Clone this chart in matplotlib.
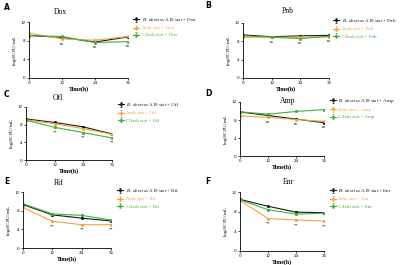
import matplotlib
matplotlib.use("Agg")
import matplotlib.pyplot as plt

plt.rcParams["mathtext.fontset"] = "custom"
plt.rcParams["mathtext.rm"] = "Liberation Serif"
plt.rcParams["mathtext.it"] = "Liberation Serif:italic"
plt.rcParams["mathtext.bf"] = "Liberation Serif:bold"

times = [0, 12, 24, 36]
series_names = ["B. abortus A19 stat", "Δrsh stat", "CΔrsh stat"]
colors = ["#1a1a1a", "#f5a245", "#3cb43c"]

drugs = ["Dox", "Pnb", "Ofl", "Amp", "Rif", "Enr"]
letters = ["A", "B", "C", "D", "E", "F"]

wt = {
    "Dox": [9.1, 8.7, 7.7, 8.8],
    "Pnb": [9.4, 9.0, 9.2, 9.3],
    "Ofl": [9.3, 8.5, 7.5, 5.9],
    "Amp": [9.8, 9.0, 8.2, 7.4],
    "Rif": [9.3, 7.1, 6.4, 5.8],
    "Enr": [10.5, 9.1, 7.9, 7.8],
}
rsh = {
    "Dox": [9.6, 8.4, 8.1, 8.9],
    "Pnb": [8.9, 8.9, 8.9, 9.0],
    "Ofl": [9.1, 8.2, 7.1, 5.8],
    "Amp": [8.9, 8.6, 8.1, 7.7],
    "Rif": [8.7, 5.7, 5.0, 5.0],
    "Enr": [10.3, 6.6, 6.3, 6.1],
}
crsh = {
    "Dox": [9.1, 8.9, 7.6, 7.8],
    "Pnb": [9.2, 8.9, 8.6, 9.1],
    "Ofl": [9.0, 7.4, 6.2, 5.0],
    "Amp": [9.8, 9.3, 9.9, 10.3],
    "Rif": [9.5, 7.3, 7.0, 6.0],
    "Enr": [10.4, 8.4, 7.5, 7.7],
}
err = [0.1, 0.15, 0.2, 0.15]
signif = {"Dox": "ns", "Pnb": "ns", "Ofl": "**", "Amp": "ns", "Rif": "**", "Enr": "**"}

# pixel layout: (left, right, top, bottom)
boxes = [(29, 128, 22, 78), (243, 329, 23, 78),
         (26, 112, 107, 160), (240, 324, 102, 156),
         (23, 111, 192, 248), (240, 324, 192, 251)]
title_pos = [(60, 12), (288, 11), (58, 98), (288, 101), (59, 183), (288, 182)]
letter_pos = [(4, 7), (205, 6), (4, 95), (205, 94), (4, 182), (205, 182)]
legend_pos = [(133, 16), (333, 17), (118, 101), (330, 97), (117, 187), (330, 187)]

W, H = 400, 265
fig = plt.figure(figsize=(4, 2.65), dpi=100)
serif = "Liberation Serif"

for i, d in enumerate(drugs):
    l, r, t, b = boxes[i]
    ax = fig.add_axes([l / W, 1 - b / H, (r - l) / W, (b - t) / H])
    data = [wt[d], rsh[d], crsh[d]]
    labels = [f"$\\it{{B.\\ abortus}}$ A19 stat + {d}", f"Δrsh stat + {d}", f"CΔrsh stat + {d}"]
    for vals, c, lab in zip(data, colors, labels):
        ax.errorbar(times, vals, yerr=err, color=c, lw=0.8, marker="o", ms=1.2,
                    elinewidth=0.5, capsize=0.8, capthick=0.5, label=lab)
    ax.set_xlim(0, 36)
    ax.set_ylim(0, 12)
    ax.set_xticks(times)
    ax.set_yticks([0, 4, 8, 12])
    for s in ["top", "right"]:
        ax.spines[s].set_visible(False)
    for s in ["left", "bottom"]:
        ax.spines[s].set_linewidth(0.6)
    ax.tick_params(labelsize=3.6, width=0.5, length=1.5, pad=0.8)
    for lab in ax.get_xticklabels() + ax.get_yticklabels():
        lab.set_fontfamily(serif)
    ax.set_xlabel("Time(h)", fontsize=4.2, fontfamily=serif, fontweight="bold", labelpad=0.5)
    ax.set_ylabel("log$_{10}$CFU/mL", fontsize=3.8, fontfamily=serif, labelpad=1)
    # significance marks
    for k in range(1, 4):
        low = min(v[k] for v in data)
        ax.text(times[k], low - 0.6, signif[d], fontsize=3.2, ha="center", va="top",
                fontfamily=serif)
    leg = ax.legend(loc="upper left", bbox_to_anchor=(legend_pos[i][0] / W, 1 - legend_pos[i][1] / H),
                    bbox_transform=fig.transFigure, frameon=False,
                    handlelength=1.2, handletextpad=0.5, labelspacing=0.55, borderaxespad=0,
                    borderpad=0, prop={"family": serif, "size": 3.6})
    for txt, c in zip(leg.get_texts(), colors):
        txt.set_color(c)
    fig.text(title_pos[i][0] / W, 1 - title_pos[i][1] / H, d, fontsize=5.5, ha="center",
             va="center", fontfamily=serif)
    fig.text(letter_pos[i][0] / W, 1 - letter_pos[i][1] / H, letters[i], fontsize=5.5,
             fontweight="bold", ha="left", va="center", fontfamily="DejaVu Sans")

fig.savefig("out.png", dpi=100)
